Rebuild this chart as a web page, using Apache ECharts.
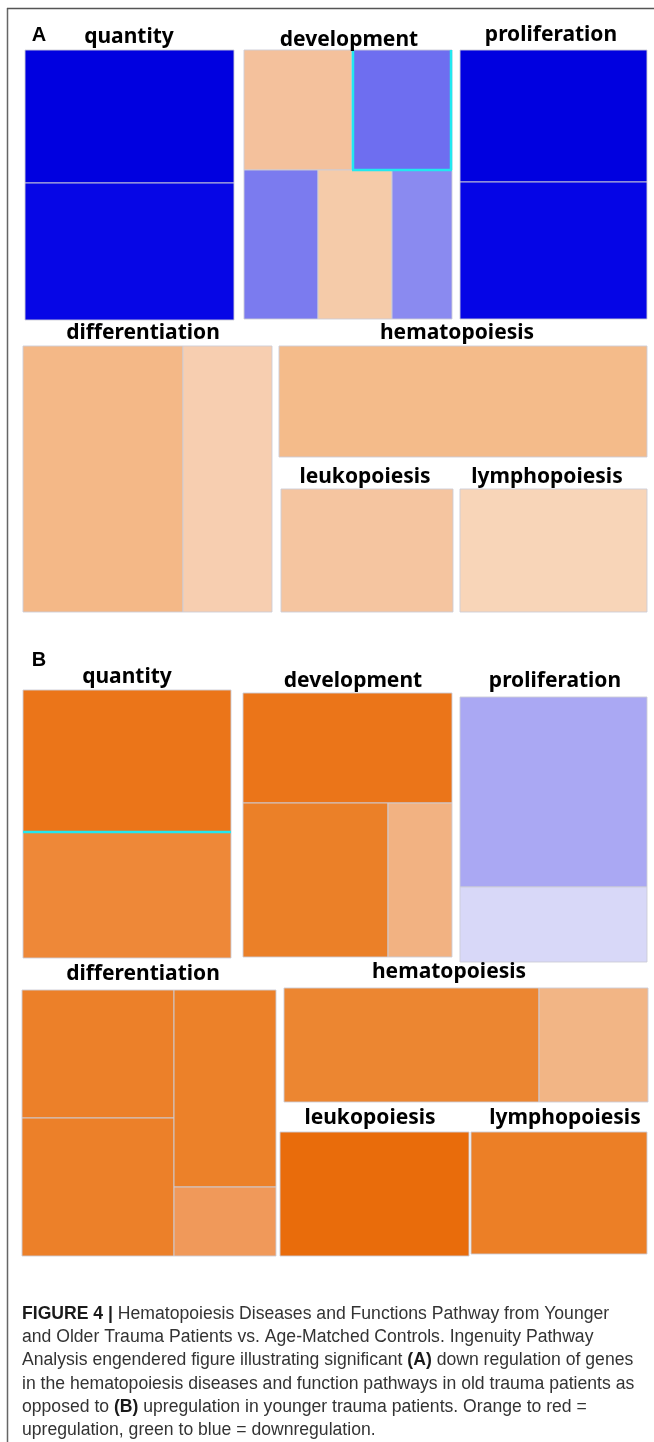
<!DOCTYPE html>
<html>
<head>
<meta charset="utf-8">
<script src="https://cdn.jsdelivr.net/npm/echarts@6/dist/echarts.min.js"></script>
<style>
  html, body { margin: 0; padding: 0; background: #fff; }
  #chart { width: 654px; height: 1442px; }
</style>
</head>
<body>
<div id="chart"></div>
<script>
  // cells: [x0, y0, x1, y1] in figure units (0-654 across, 0-1442 down)
  var cellsA = [
    [25, 50, 234, 183], [25, 183, 234, 320],
    [244, 50, 352, 170], [352, 50, 452, 170], [244, 170, 318, 319], [318, 170, 392, 319], [392, 170, 452, 319],
    [460, 50, 647, 182], [460, 182, 647, 319],
    [23, 346, 183, 612], [183, 346, 272, 612],
    [279, 346, 647, 457],
    [281, 489, 453, 612],
    [460, 489, 647, 612]
  ]
  var colorsA = ['#0000e0', '#0606e6', '#f4c19c', '#6e6ef0', '#7b7bef', '#f5cba9', '#8a8af0',
    '#0000e0', '#0505e6', '#f4b887', '#f7ceb0', '#f4bb8a', '#f5c5a0', '#f8d5b8']

  var cellsB = [
    [23, 690, 231, 832], [23, 832, 231, 958],
    [243, 693, 452, 803], [243, 803, 388, 957], [388, 803, 452, 957],
    [460, 697, 647, 887], [460, 887, 647, 962],
    [22, 990, 174, 1118], [22, 1118, 174, 1256], [174, 990, 276, 1187], [174, 1187, 276, 1256],
    [284, 988, 539, 1102], [539, 988, 648, 1102],
    [280, 1132, 469, 1256],
    [471, 1132, 647, 1254]
  ]
  var colorsB = ['#eb7519', '#ee8838', '#eb7519', '#eb8028', '#f2b282', '#aaa8f3', '#d8d8f8',
    '#ec8029', '#ec8029', '#ec8129', '#f0995a', '#ec8631', '#f2b585', '#e96c0b', '#ec7f26']

  // highlighted (cyan) cell edges: [panel, cell index, sides]
  var highlights = [['A', 3, 'lbr'], ['B', 0, 'b']]

  var groupNames = ['quantity', 'development', 'proliferation', 'differentiation', 'hematopoiesis', 'leukopoiesis', 'lymphopoiesis']
  var titlePosA = [[129, 37], [349, 40], [551, 35], [143, 333], [457, 333], [365, 477], [547, 477]]
  var titlePosB = [[127, 677], [353, 681], [555, 681], [143, 974], [449, 972], [370, 1118], [565, 1118]]
  var panelLetters = [['A', 39, 35], ['B', 39, 660]]

  var captionLines = [
    [['b', 'FIGURE 4 |'], ['n', ' Hematopoiesis Diseases and Functions Pathway from Younger']],
    [['n', 'and Older Trauma Patients vs. Age-Matched Controls. Ingenuity Pathway']],
    [['n', 'Analysis engendered figure illustrating significant '], ['b', '(A)'], ['n', ' down regulation of genes']],
    [['n', 'in the hematopoiesis diseases and function pathways in old trauma patients as']],
    [['n', 'opposed to '], ['b', '(B)'], ['n', ' upregulation in younger trauma patients. Orange to red =']],
    [['n', 'upregulation, green to blue = downregulation.']]
  ]

  var chart = echarts.init(document.getElementById('chart'))

  function cellData(cells, colors, panel) {
    return cells.map(function (c, i) {
      var hl = ''
      highlights.forEach(function (h) { if (h[0] === panel && h[1] === i) hl = h[2] })
      return { value: c, itemStyle: { color: colors[i] }, hl: hl }
    })
  }
  var cellItems = cellData(cellsA, colorsA, 'A').concat(cellData(cellsB, colorsB, 'B'))

  function renderCell(params, api) {
    var p0 = api.coord([api.value(0), api.value(1)])
    var p1 = api.coord([api.value(2), api.value(3)])
    var item = cellItems[params.dataIndex]
    var x = p0[0], y = p0[1], w = p1[0] - p0[0], h = p1[1] - p0[1]
    var children = [{
      type: 'rect',
      shape: { x: x, y: y, width: w, height: h },
      style: { fill: item.itemStyle.color, stroke: 'rgba(205,205,215,0.9)', lineWidth: 1 }
    }]
    var cyan = { stroke: '#22e8f0', lineWidth: 2.5 }
    if (item.hl.indexOf('l') >= 0) children.push({ type: 'line', z2: 20, shape: { x1: x + 1, y1: y, x2: x + 1, y2: y + h }, style: cyan })
    if (item.hl.indexOf('r') >= 0) children.push({ type: 'line', z2: 20, shape: { x1: x + w - 1, y1: y, x2: x + w - 1, y2: y + h }, style: cyan })
    if (item.hl.indexOf('b') >= 0) children.push({ type: 'line', z2: 20, shape: { x1: x, y1: y + h, x2: x + w, y2: y + h }, style: cyan })
    return { type: 'group', children: children }
  }

  var titleData = []
  titlePosA.forEach(function (p, i) { titleData.push([p[0], p[1], groupNames[i]]) })
  titlePosB.forEach(function (p, i) { titleData.push([p[0], p[1], groupNames[i]]) })

  var captionGraphics = captionLines.map(function (line, i) {
    var txt = line.map(function (seg) { return '{' + seg[0] + '|' + seg[1] + '}' }).join('')
    return {
      type: 'text',
      left: 22,
      top: 1305 + i * 23.3,
      style: {
        text: txt,
        rich: {
          n: { fontFamily: 'Liberation Sans', fontSize: 17.6, fill: '#333' },
          b: { fontFamily: 'Liberation Sans', fontSize: 17.6, fontWeight: 'bold', fill: '#1a1a1a' }
        }
      }
    }
  })

  var option = {
    animation: false,
    backgroundColor: '#fff',
    grid: { left: 0, right: 0, top: 0, bottom: 0 },
    xAxis: { type: 'value', min: 0, max: 654, show: false },
    yAxis: { type: 'value', min: 0, max: 1442, inverse: true, show: false },
    graphic: [
      { type: 'line', shape: { x1: 7.5, y1: 8, x2: 7.5, y2: 1442 }, style: { stroke: '#666', lineWidth: 1.5 } },
      { type: 'line', shape: { x1: 7, y1: 8.5, x2: 654, y2: 8.5 }, style: { stroke: '#555', lineWidth: 1.5 } }
    ].concat(captionGraphics),
    series: [
      {
        type: 'custom',
        renderItem: renderCell,
        data: cellItems,
        clip: false
      },
      {
        type: 'scatter',
        symbolSize: 0,
        itemStyle: { opacity: 1 },
        emphasis: { disabled: true },
        data: titleData,
        label: {
          show: true,
          position: 'inside',
          formatter: function (p) { return p.value[2] },
          fontFamily: 'Noto Sans',
          fontWeight: 'bold',
          fontSize: 21,
          color: '#000',
          opacity: 1
        }
      },
      {
        type: 'scatter',
        symbolSize: 0,
        itemStyle: { opacity: 1 },
        emphasis: { disabled: true },
        data: panelLetters.map(function (l) { return [l[1], l[2], l[0]] }),
        label: {
          show: true,
          position: 'inside',
          formatter: function (p) { return p.value[2] },
          fontFamily: 'Liberation Sans',
          fontWeight: 'bold',
          fontSize: 20,
          color: '#000',
          opacity: 1
        }
      }
    ]
  }
  chart.setOption(option)
</script>
</body>
</html>
